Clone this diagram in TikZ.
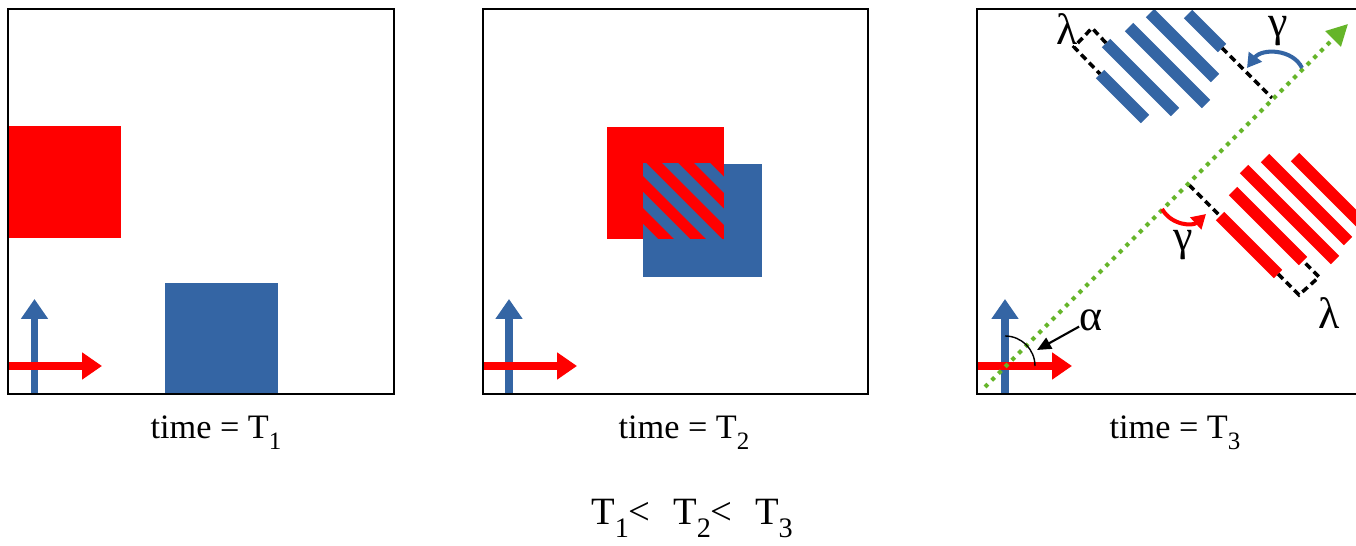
\documentclass[tikz,border=0pt]{standalone}
\usepackage{fontspec}
\setmainfont{Liberation Serif}
\usetikzlibrary{arrows.meta}
\definecolor{boxred}{RGB}{255,0,0}
\definecolor{boxblue}{RGB}{52,101,164}
\definecolor{axisgreen}{RGB}{101,181,41}
\newcommand{\subidx}[1]{\raisebox{-0.32em}{\fontsize{0.73em}{1em}\selectfont #1}}

\begin{document}
\begin{tikzpicture}[x=0.02cm,y=-0.02cm]
\tikzset{
  panelbox/.style={draw=black,line width=0.85pt},
  redaxis/.style={draw=boxred,line width=4.25pt,-{Triangle[length=11.3pt,width=14.7pt]}},
  blueaxis/.style={draw=boxblue,line width=4.25pt,-{Triangle[length=11.3pt,width=14.7pt]}},
  bluebar/.style={draw=boxblue,line width=6.8pt},
  redbar/.style={draw=boxred,line width=6.8pt},
  guide/.style={draw=black,line width=2pt,dash pattern=on 4pt off 2.5pt},
  direction/.style={draw=axisgreen,line width=2.3pt,dash pattern=on 2.3pt off 3.1pt,-{Triangle[length=12pt,width=12pt]}},
  bluecurve/.style={draw=boxblue,line width=2.3pt,-{Triangle[length=8pt,width=9pt]}},
  redcurve/.style={draw=boxred,line width=2.3pt,-{Triangle[length=8pt,width=9pt]}},
  pointer/.style={draw=black,line width=1.2pt,-{Triangle[length=8pt,width=7pt]}},
  timelabel/.style={anchor=base,font=\fontsize{19.5}{23}\selectfont,inner sep=0pt},
  greek/.style={font=\fontsize{25}{28}\selectfont,inner sep=0pt}
}
\useasboundingbox (0,0) rectangle (1356,546);

\fill[boxred] (8,126) rectangle (121,238);
\fill[boxblue] (165,283) rectangle (278,394);
\draw[blueaxis] (34.5,394) -- (34.5,299);
\draw[redaxis] (8,366) -- (102,366);
\draw[panelbox] (8,9) rectangle (394,394);
\node[timelabel] (t_one) at (216,439) {time = T\subidx{1}};

\fill[boxblue] (643,164) rectangle (762,277);
\fill[boxred] (607,127) rectangle (724,239);
\begin{scope}
  \clip (643,164) rectangle (724,239);
  \foreach \q in {403,435,467,499,531}
    \fill[boxblue] (\q+100,100) -- (\q+116,100) -- (\q+316,300) -- (\q+300,300) -- cycle;
\end{scope}
\draw[blueaxis] (509,394) -- (509,299);
\draw[redaxis] (483,366) -- (577,366);
\draw[panelbox] (483,9) rectangle (868,394);
\node[timelabel] (t_two) at (684,439) {time = T\subidx{2}};

\begin{scope}
  \clip (977,9) rectangle (1356,394);
  \draw[bluebar] (1100,74) -- (1145,119);
  \draw[bluebar] (1106,43) -- (1175,112);
  \draw[bluebar] (1129,27) -- (1206,104);
  \draw[bluebar] (1150,13) -- (1215,78);
  \draw[bluebar] (1188,14) -- (1222,48);
  \draw[redbar] (1220,216) -- (1278,274);
  \draw[redbar] (1233,191) -- (1303,261);
  \draw[redbar] (1244,169) -- (1335,260);
  \draw[redbar] (1265,158) -- (1348,241);
  \draw[redbar] (1295,157) -- (1362,224);
\end{scope}
\draw[guide] (1106,43) -- (1092,28) -- (1074,47) -- (1100,74);
\draw[guide] (1222,48) -- (1272,98);
\draw[guide] (1189,185) -- (1220,216);
\draw[guide] (1278,274) -- (1299,295) -- (1319,277) -- (1303,261);
\coordinate (o_three) at (1005,366);
\draw[blueaxis] (1005,394) -- (1005,299);
\draw[redaxis] (977,366) -- (1072,366);
\draw[direction] (985,387) -- (1348,24);
\draw[line width=0.8pt] (1005,336) arc[start angle=90,end angle=0,radius=0.6cm];
\coordinate (g_blue) at (1302,68);
\coordinate (d_blue) at (1247,68);
\coordinate (g_red) at (1162,209);
\coordinate (d_red) at (1206,214);
\coordinate (alpha_tip) at (1037,350);
\draw[bluecurve] (g_blue) .. controls (1293,49) and (1262,48) .. (d_blue);
\draw[redcurve] (g_red) .. controls (1172,226) and (1193,226) .. (d_red);
\node[greek] (lam_b) at (1067,29) {λ};
\node[greek] (gam_b) at (1278,31) {γ};
\node[greek] (gam_r) at (1183,245) {γ};
\node[greek] (lam_r) at (1329,313) {λ};
\node[greek] (alp) at (1091,320) {α};
\draw[pointer] (alp) -- (alpha_tip);
\draw[panelbox] (977,9) rectangle (1362,394);
\node[timelabel] (t_three) at (1175,439) {time = T\subidx{3}};

\node[timelabel,font=\fontsize{22}{26}\selectfont] (t_order) at (692,525) {T\subidx{1}<\hspace{0.58em}T\subidx{2}<\hspace{0.58em}T\subidx{3}};
\end{tikzpicture}
\end{document}
